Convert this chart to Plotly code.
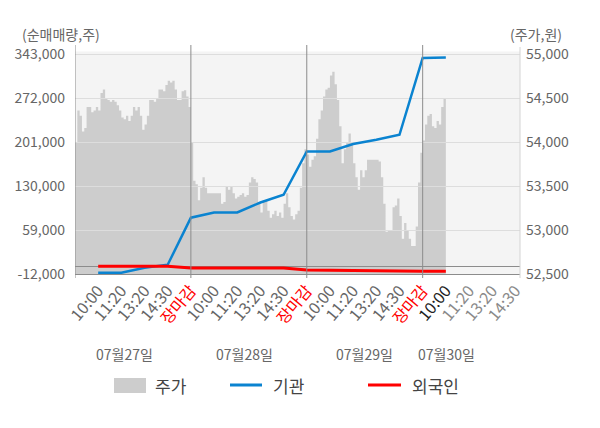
import plotly.graph_objects as go

# 날짜 / 시간 눈금
days = ["07월27일", "07월28일", "07월29일", "07월30일"]
day_ticks = ["10:00", "11:20", "13:20", "14:30", "장마감"]

# 주가(원) - 하루 50칸씩, 마지막 날은 10:00까지
price_day1 = [54000, 54360, 54300, 54120, 54160, 54400, 54400, 54340, 54360, 54400,
              54360, 54560, 54600, 54500, 54480, 54460, 54480, 54460, 54420, 54360,
              54280, 54260, 54300, 54240, 54300, 54400, 54360, 54400, 54300, 54140,
              54200, 54300, 54480, 54480, 54460, 54500, 54600, 54600, 54580, 54650,
              54700, 54680, 54700, 54600, 54480, 54480, 54580, 54590, 54520, 54400]
price_day2 = [54000, 53560, 53520, 53340, 53480, 53600, 53480, 53420, 53420, 53420,
              53420, 53420, 53420, 53300, 53320, 53500, 53460, 53500, 53420, 53360,
              53380, 53400, 53420, 53380, 53400, 53540, 53600, 53580, 53540, 53300,
              53200, 53340, 53340, 53220, 53140, 53180, 53220, 53160, 53200, 53140,
              53300, 53420, 53260, 53160, 53120, 53180, 53220, 53480, 53760, 53920]
price_day3 = [53860, 53720, 53800, 53840, 54040, 54260, 54360, 54520, 54600, 54620,
              54760, 54800, 54660, 54480, 54180, 53760, 53920, 54000, 54100, 54000,
              53760, 53600, 53460, 53680, 53600, 53680, 53800, 53800, 53800, 53800,
              53800, 53780, 53600, 53300, 52980, 53000, 53000, 53260, 53280, 53360,
              53160, 52900, 53080, 53000, 52900, 52820, 52820, 53040, 53540, 53880]
price_day4 = [54020, 54200, 54300, 54320, 54180, 54160, 54240, 54200, 54400, 54500]

# 순매매량(주) - 눈금 시점마다
gigwan = [-10000, -10000, -2000, 3000, 79000, 87500, 87500, 103500,
          116000, 186000, 186000, 198000, 205000, 213000, 337000, 338000]
foreign = [500, 500, 500, 500, -2500, -2500, -2500, -2500,
           -2500, -5500, -6000, -7000, -7000, -7000, -7500, -7500]

left_ticks = [-12000, 59000, 130000, 201000, 272000, 343000]
right_ticks = [52500, 53000, 53500, 54000, 54500, 55000]

DAY = 5      # 하루 = 눈금 5칸
SLOT = 0.1   # 주가 한 칸 폭
W, H = 600, 428
OFF = 8      # 페이지 body 여백 보정
# 창 기준 플롯 영역: x 75~520, y 52~274
L, T = 75 - OFF, 52 - OFF
R, B = W - (520 - OFF), H - (274 - OFF)
PW, PH = W - L - R, H - T - B
FONT = "Noto Sans CJK KR"
GRAY = "#666666"
BLUE = "#0a83d0"
RED = "#ff0000"


def px_x(px):
    return (px - OFF - L) / PW


def px_y(py):
    return (H - B - (py - OFF)) / PH


x_price, y_price = [], []
for d, vals in enumerate([price_day1, price_day2, price_day3, price_day4]):
    for k, v in enumerate(vals):
        x_price.append(d * DAY + k * SLOT)
        y_price.append(v)
x_price.append(x_price[-1] + SLOT)
y_price.append(y_price[-1])

x_net = [i + 1 for i in range(len(gigwan))]

tickvals, ticktext = [], []
for d in range(len(days)):
    for j, t in enumerate(day_ticks):
        if d == len(days) - 1 and j == len(day_ticks) - 1:
            break
        tickvals.append(d * DAY + j + 1)
        if t == "장마감":
            ticktext.append(f'<span style="color:{RED}">{t}</span>')
        elif d == len(days) - 1:
            color = "#222222" if j == 0 else "#8a8a8a"
            ticktext.append(f'<span style="color:{color}">{t}</span>')
        else:
            ticktext.append(t)

x_range = [0, 19.2]
y_left_range = [-12000, 346700]
y_right_range = [52500, 55026]

fig = go.Figure()

# 주가 (아래 서브플롯)
fig.add_trace(go.Scatter(
    x=x_price, y=y_price, xaxis="x", yaxis="y",
    mode="lines", line=dict(width=0, shape="hv", color="#cdcdcd"),
    fill="tozeroy", fillcolor="#cdcdcd", name="주가", hoverinfo="skip",
))
# 기관 / 외국인 (위 서브플롯: 격자선이 주가 영역 위에 보이도록)
fig.add_trace(go.Scatter(
    x=x_net, y=gigwan, xaxis="x2", yaxis="y2",
    mode="lines", line=dict(width=2.5, color=BLUE), name="기관",
))
fig.add_trace(go.Scatter(
    x=x_net, y=foreign, xaxis="x2", yaxis="y2",
    mode="lines", line=dict(width=3, color=RED), name="외국인",
))

shapes = []
# 플롯 배경
shapes.append(dict(type="rect", xref="paper", yref="paper",
                   x0=0, x1=1, y0=0, y1=px_y(51.5),
                   fillcolor="#f4f4f4", line=dict(width=0), layer="below"))
# 일자 구분선
for d in range(len(days)):
    shapes.append(dict(type="line", xref="x2", yref="paper",
                       x0=d * DAY, x1=d * DAY, y0=px_y(278), y1=px_y(45),
                       line=dict(color="#8c8c8c", width=1), layer="above"))
shapes.append(dict(type="line", xref="paper", yref="paper",
                   x0=1, x1=1, y0=px_y(278), y1=px_y(47),
                   line=dict(color="#d4d4d4", width=1), layer="above"))

# 범례
shapes.append(dict(type="rect", xref="paper", yref="paper",
                   x0=px_x(114), x1=px_x(146), y0=px_y(393), y1=px_y(378),
                   fillcolor="#cdcdcd", line=dict(width=0)))
shapes.append(dict(type="line", xref="paper", yref="paper",
                   x0=px_x(230), x1=px_x(262), y0=px_y(385), y1=px_y(385),
                   line=dict(color=BLUE, width=3)))
shapes.append(dict(type="line", xref="paper", yref="paper",
                   x0=px_x(368), x1=px_x(401), y0=px_y(385), y1=px_y(385),
                   line=dict(color=RED, width=3)))

annotations = [
    dict(text="(순매매량,주)", x=px_x(61), y=px_y(34)),
    dict(text="(주가,원)", x=px_x(536), y=px_y(34)),
]
for a in annotations:
    a.update(xref="paper", yref="paper", showarrow=False,
             xanchor="center", yanchor="middle", font=dict(size=14, color=GRAY))

date_pos = [2.15, 7.3, 12.5, 16.05]
for name, xp in zip(days, date_pos):
    annotations.append(dict(text=name, x=xp, xref="x2", y=px_y(354), yref="paper",
                            showarrow=False, xanchor="center", yanchor="middle",
                            font=dict(size=14, color=GRAY)))

for label, xp in [("주가", 153), ("기관", 271), ("외국인", 410)]:
    annotations.append(dict(text=label, x=px_x(xp), y=px_y(385), xref="paper", yref="paper",
                            showarrow=False, xanchor="left", yanchor="middle",
                            font=dict(size=17, color="#444444")))

fig.update_layout(
    width=W, height=H,
    margin=dict(l=L, r=R, t=T, b=B, autoexpand=False),
    paper_bgcolor="white",
    plot_bgcolor="rgba(0,0,0,0)",
    font=dict(family=FONT, size=14, color=GRAY),
    showlegend=False,
    xaxis=dict(domain=[0, 1], range=x_range, anchor="y", visible=False),
    yaxis=dict(domain=[0, 1], range=y_right_range, anchor="x", side="right",
               tickvals=right_ticks, ticktext=[f"{v:,}" for v in right_ticks],
               showgrid=False, zeroline=False, showline=False, ticks="",
               ticklabelstandoff=5, tickfont=dict(size=14, color=GRAY)),
    xaxis2=dict(domain=[0, 1], range=x_range, anchor="y2",
                tickvals=tickvals, ticktext=ticktext, tickangle=-50,
                tickfont=dict(size=16, color=GRAY), ticks="",
                showgrid=False, zeroline=False,
                showline=True, linecolor="#8c8c8c", linewidth=1),
    yaxis2=dict(domain=[0, 1], range=y_left_range, anchor="x2", side="left",
                tickvals=left_ticks, ticktext=[f"{v:,}" for v in left_ticks],
                showgrid=True, gridcolor="#dddddd", gridwidth=1,
                zeroline=True, zerolinecolor="#8c8c8c", zerolinewidth=1,
                showline=False, ticks="", ticklabelstandoff=9,
                tickfont=dict(size=14, color=GRAY)),
    shapes=shapes,
    annotations=annotations,
)

fig.write_html("out.html")
